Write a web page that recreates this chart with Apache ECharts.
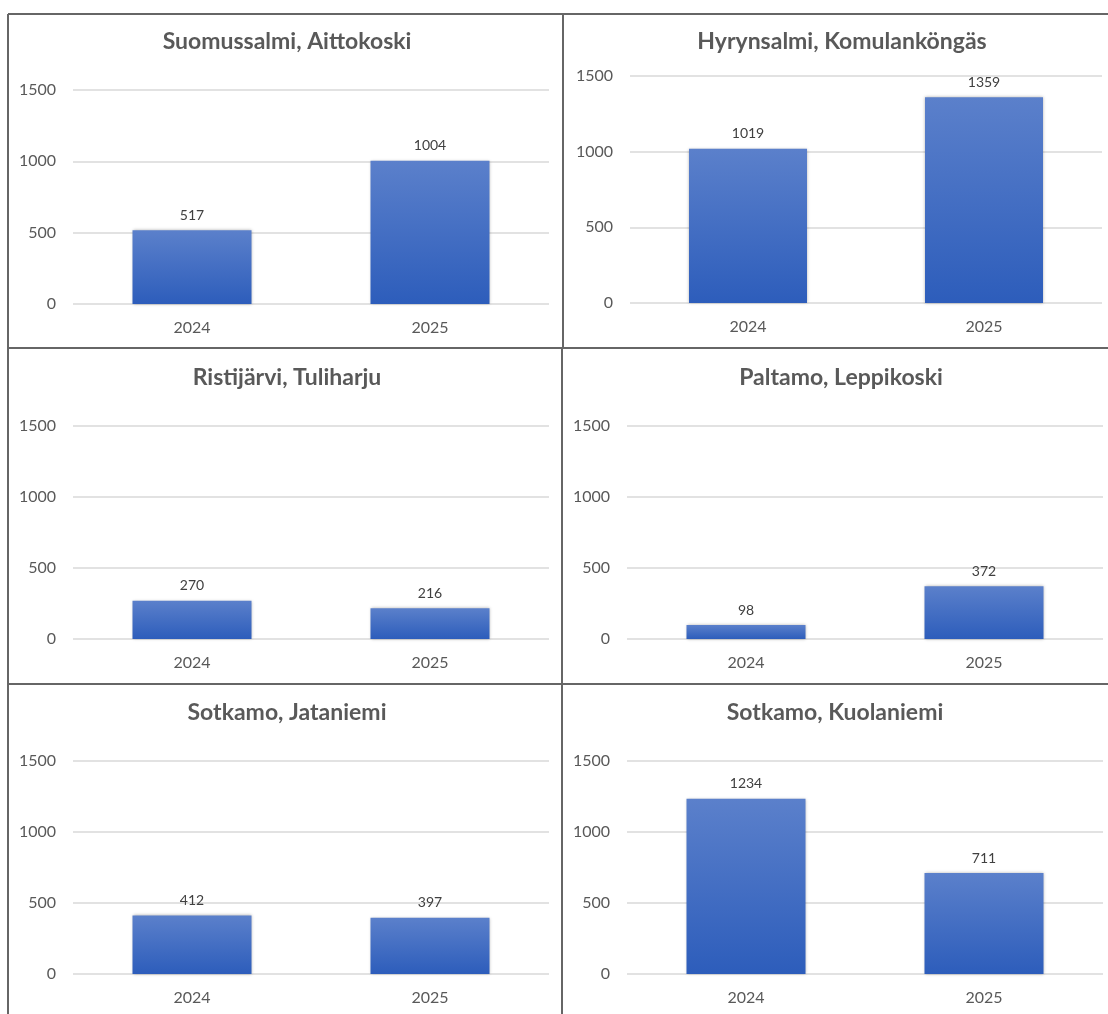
<!DOCTYPE html>
<html>
<head>
<meta charset="utf-8">
<script src="https://cdn.jsdelivr.net/npm/echarts@6/dist/echarts.min.js"></script>
<style>
  html, body { margin: 0; padding: 0; background: #fff; }
  #main { width: 1108px; height: 1014px; }
</style>
</head>
<body>
<div id="main"></div>
<script>
// data
var years = ['2024', '2025'];
var titles = ['Suomussalmi, Aittokoski', 'Hyrynsalmi, Komulanköngäs',
              'Ristijärvi, Tuliharju', 'Paltamo, Leppikoski',
              'Sotkamo, Jataniemi', 'Sotkamo, Kuolaniemi'];
var aittokoski = [517, 1004];
var komulankongas = [1019, 1359];
var tuliharju = [270, 216];
var leppikoski = [98, 372];
var jataniemi = [412, 397];
var kuolaniemi = [1234, 711];
var yTicks = [0, 500, 1000, 1500];

var seriesData = [aittokoski, komulankongas, tuliharju, leppikoski, jataniemi, kuolaniemi];

// panel layout: grid box + title position
var panels = [
    { left: 73,  top: 90,  width: 476, height: 214, tx: 287, ty: 42 },
    { left: 630, top: 76,  width: 472, height: 227, tx: 842, ty: 42 },
    { left: 73,  top: 426, width: 476, height: 213, tx: 287, ty: 378 },
    { left: 627, top: 426, width: 476, height: 213, tx: 841, ty: 378 },
    { left: 73,  top: 761, width: 476, height: 213, tx: 287, ty: 713 },
    { left: 627, top: 761, width: 476, height: 213, tx: 835, ty: 713 }
];

var font = 'Lato, "Open Sans", sans-serif';
var myChart = echarts.init(document.getElementById('main'));

var barColor = new echarts.graphic.LinearGradient(0, 0, 0, 1, [
    { offset: 0, color: '#5b80cb' },
    { offset: 1, color: '#2d5dbb' }
]);

var option = {
    backgroundColor: '#fff',
    animation: false,
    title: [],
    grid: [],
    xAxis: [],
    yAxis: [],
    series: [],
    graphic: []
};

panels.forEach(function (p, i) {
    option.title.push({
        text: titles[i],
        left: p.tx,
        top: p.ty,
        padding: 0,
        textAlign: 'center',
        textVerticalAlign: 'middle',
        textStyle: { fontFamily: font, fontSize: 23, fontWeight: 'bold', color: '#595959' }
    });
    option.grid.push({ left: p.left, top: p.top, width: p.width, height: p.height });
    option.xAxis.push({
        type: 'category',
        gridIndex: i,
        data: years,
        axisLine: { show: false },
        axisTick: { show: false },
        axisLabel: { fontFamily: font, fontSize: 16, color: '#595959', margin: 16 }
    });
    option.yAxis.push({
        type: 'value',
        gridIndex: i,
        min: yTicks[0],
        max: yTicks[yTicks.length - 1],
        interval: 500,
        axisLine: { show: false },
        axisTick: { show: false },
        splitLine: { lineStyle: { color: '#d9d9d9', width: 1.5 } },
        axisLabel: {
            fontFamily: font, fontSize: 16, color: '#595959', margin: 17,
            formatter: function (v) { return String(v); }
        }
    });
    option.series.push({
        type: 'bar',
        xAxisIndex: i,
        yAxisIndex: i,
        data: seriesData[i],
        barWidth: '50%',
        itemStyle: {
            color: barColor,
            shadowBlur: 3,
            shadowColor: 'rgba(0,0,0,0.3)'
        },
        label: {
            show: true,
            position: 'top',
            distance: 8,
            fontFamily: font,
            fontSize: 14,
            color: '#404040'
        }
    });
});

// panel borders
var borderStyle = { stroke: '#666', lineWidth: 2 };
[
    [8, 14, 1108, 14],
    [8, 348, 1108, 348],
    [8, 684, 1108, 684],
    [8, 14, 8, 1014],
    [563, 14, 563, 348],
    [562, 348, 562, 1014]
].forEach(function (l) {
    option.graphic.push({
        type: 'line',
        silent: true,
        shape: { x1: l[0], y1: l[1], x2: l[2], y2: l[3] },
        style: borderStyle
    });
});

myChart.setOption(option);
</script>
</body>
</html>
